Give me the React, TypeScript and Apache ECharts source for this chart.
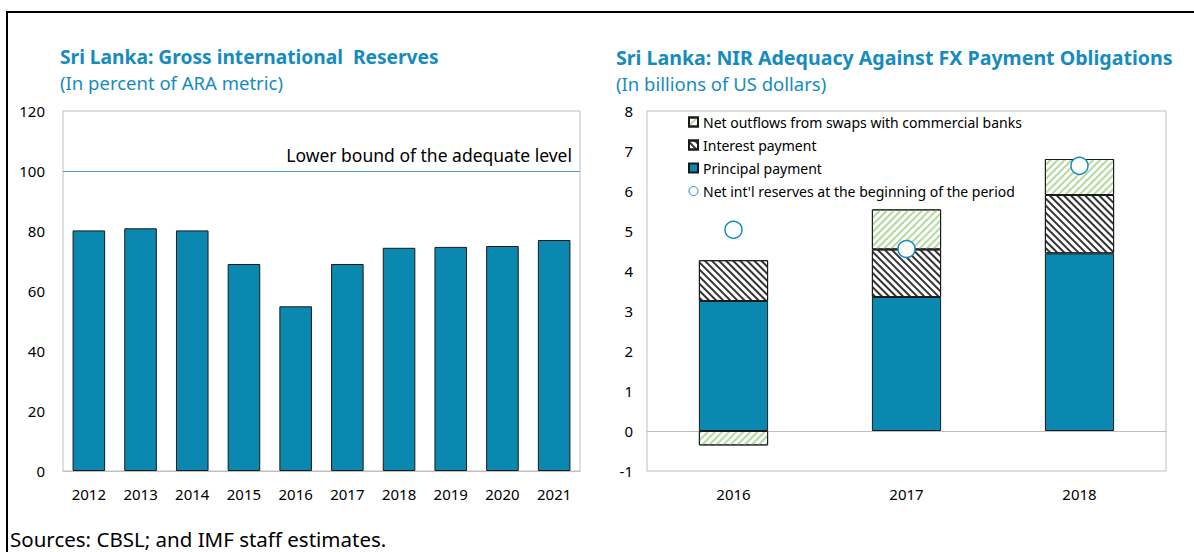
import React, { useEffect, useRef } from "react";
import * as echarts from "echarts";

const leftYears = ["2012", "2013", "2014", "2015", "2016", "2017", "2018", "2019", "2020", "2021"];
const araValues = [80.2, 80.9, 80.2, 69.0, 54.9, 69.0, 74.4, 74.7, 75.0, 77.0];
const adequateLevel = 100;

const rightYears = ["2016", "2017", "2018"];
const principal = [3.25, 3.35, 4.44];
const interest = [1.02, 1.19, 1.46];
const swaps = [-0.36, 1.0, 0.9];
const nir = [5.03, 4.55, 6.63];

const FONT = "'Noto Sans', 'Open Sans', sans-serif";
const TEAL = "#0a88b0";
const TITLE = "#168bbf";

export default function App() {
  const ref = useRef<HTMLDivElement>(null);
  useEffect(() => {
    if (!ref.current) return;
    const chart = echarts.init(ref.current, null, { renderer: "svg" });
    const axisLabel = { color: "#000", fontSize: 15, fontFamily: FONT };
    const interestDecal = {
      symbol: "rect",
      symbolSize: 1,
      color: "#333333",
      dashArrayX: [1, 0],
      dashArrayY: [2, 3],
      rotation: Math.PI / 4,
    };
    const swapDecal = {
      symbol: "rect",
      symbolSize: 1,
      color: "#b2d99c",
      dashArrayX: [1, 0],
      dashArrayY: [2, 3],
      rotation: -Math.PI / 4,
    };
    const option = {
      animation: false,
      textStyle: { fontFamily: FONT },
      title: [
        {
          text: "Sri Lanka: Gross international  Reserves",
          subtext: "(In percent of ARA metric)",
          left: 60,
          top: 47,
          itemGap: 7,
          padding: 0,
          textStyle: { color: TITLE, fontSize: 19.2, fontWeight: "bold", fontFamily: FONT },
          subtextStyle: { color: TITLE, fontSize: 18.5, fontFamily: FONT },
        },
        {
          text: "Sri Lanka: NIR Adequacy Against FX Payment Obligations",
          subtext: "(In billions of US dollars)",
          left: 616,
          top: 47,
          itemGap: 7,
          padding: 0,
          textStyle: { color: TITLE, fontSize: 19.6, fontWeight: "bold", fontFamily: FONT },
          subtextStyle: { color: TITLE, fontSize: 18.5, fontFamily: FONT },
        },
      ],
      legend: {
        orient: "vertical",
        left: 688,
        top: 114,
        itemWidth: 9,
        itemHeight: 9,
        itemGap: 7,
        padding: 0,
        textStyle: { color: "#000", fontSize: 14, lineHeight: 16, fontFamily: FONT },
        data: [
          { name: "Net outflows from swaps with commercial banks", icon: "rect" },
          { name: "Interest payment", icon: "rect" },
          { name: "Principal payment", icon: "rect" },
          {
            name: "Net int'l reserves at the beginning of the period",
            icon: "circle",
            itemStyle: { borderWidth: 1 },
          },
        ],
      },
      grid: [
        { left: 63, top: 111, width: 517, height: 360, show: true, borderColor: "#bfbfbf", borderWidth: 1 },
        { left: 647, top: 111, width: 519, height: 360, show: true, borderColor: "#bfbfbf", borderWidth: 1 },
      ],
      xAxis: [
        {
          type: "category",
          gridIndex: 0,
          data: leftYears,
          axisLine: { lineStyle: { color: "#bfbfbf" } },
          axisTick: { inside: true, length: 4, lineStyle: { color: "#bfbfbf" } },
          axisLabel: { ...axisLabel, margin: 15 },
        },
        {
          type: "category",
          gridIndex: 1,
          data: rightYears,
          axisLine: { onZero: true, lineStyle: { color: "#bfbfbf" } },
          axisTick: { inside: true, length: 4, lineStyle: { color: "#bfbfbf" } },
          axisLabel: { ...axisLabel, margin: 15 },
        },
      ],
      yAxis: [
        {
          type: "value",
          gridIndex: 0,
          min: 0,
          max: 120,
          interval: 20,
          axisLine: { show: false },
          axisTick: { show: false },
          splitLine: { show: false },
          axisLabel: { ...axisLabel, margin: 18 },
        },
        {
          type: "value",
          gridIndex: 1,
          min: -1,
          max: 8,
          interval: 1,
          axisLine: { show: false },
          axisTick: { show: false },
          splitLine: { show: false },
          axisLabel: { ...axisLabel, margin: 14 },
        },
      ],
      series: [
        {
          name: "ARA",
          type: "bar",
          xAxisIndex: 0,
          yAxisIndex: 0,
          data: araValues,
          barWidth: "63%",
          itemStyle: { color: TEAL, borderColor: "#1a1a1a", borderWidth: 1 },
          markLine: {
            silent: true,
            symbol: "none",
            lineStyle: { color: "#4a9cd6", width: 1, type: "solid", opacity: 1 },
            label: {
              position: "insideEndTop",
              formatter: "Lower bound of the adequate level",
              color: "#000",
              fontSize: 17.5,
              fontFamily: FONT,
              distance: [8, 7],
            },
            data: [{ yAxis: adequateLevel }],
          },
        },
        {
          name: "Principal payment",
          type: "bar",
          stack: "pay",
          xAxisIndex: 1,
          yAxisIndex: 1,
          data: principal,
          barWidth: "40%",
          itemStyle: { color: TEAL, borderColor: "#1a1a1a", borderWidth: 1 },
        },
        {
          name: "Interest payment",
          type: "bar",
          stack: "pay",
          xAxisIndex: 1,
          yAxisIndex: 1,
          data: interest,
          barWidth: "40%",
          itemStyle: { color: "#ffffff", borderColor: "#1a1a1a", borderWidth: 1, decal: interestDecal },
        },
        {
          name: "Net outflows from swaps with commercial banks",
          type: "bar",
          stack: "pay",
          xAxisIndex: 1,
          yAxisIndex: 1,
          data: swaps,
          barWidth: "40%",
          itemStyle: { color: "#ffffff", borderColor: "#1a1a1a", borderWidth: 1, decal: swapDecal },
        },
        {
          name: "Net int'l reserves at the beginning of the period",
          type: "scatter",
          xAxisIndex: 1,
          yAxisIndex: 1,
          data: nir,
          symbol: "circle",
          symbolSize: 17,
          itemStyle: { color: "#ffffff", borderColor: "#168bbf", borderWidth: 1.5, opacity: 1 },
          z: 5,
        },
      ],
      graphic: [
        {
          type: "rect",
          shape: { x: 7, y: 12, width: 1300, height: 700 },
          style: { fill: "none", stroke: "#000", lineWidth: 2 },
          silent: true,
        },
        {
          type: "text",
          left: 10,
          top: 528,
          style: { text: "Sources: CBSL; and IMF staff estimates.", fill: "#000", fontSize: 20.5, fontFamily: FONT },
        },
      ],
    };
    chart.setOption(option as any);
    return () => chart.dispose();
  }, []);
  return <div ref={ref} style={{ position: "fixed", left: 0, top: 0, width: 1194, height: 552, background: "#fff" }} />;
}
